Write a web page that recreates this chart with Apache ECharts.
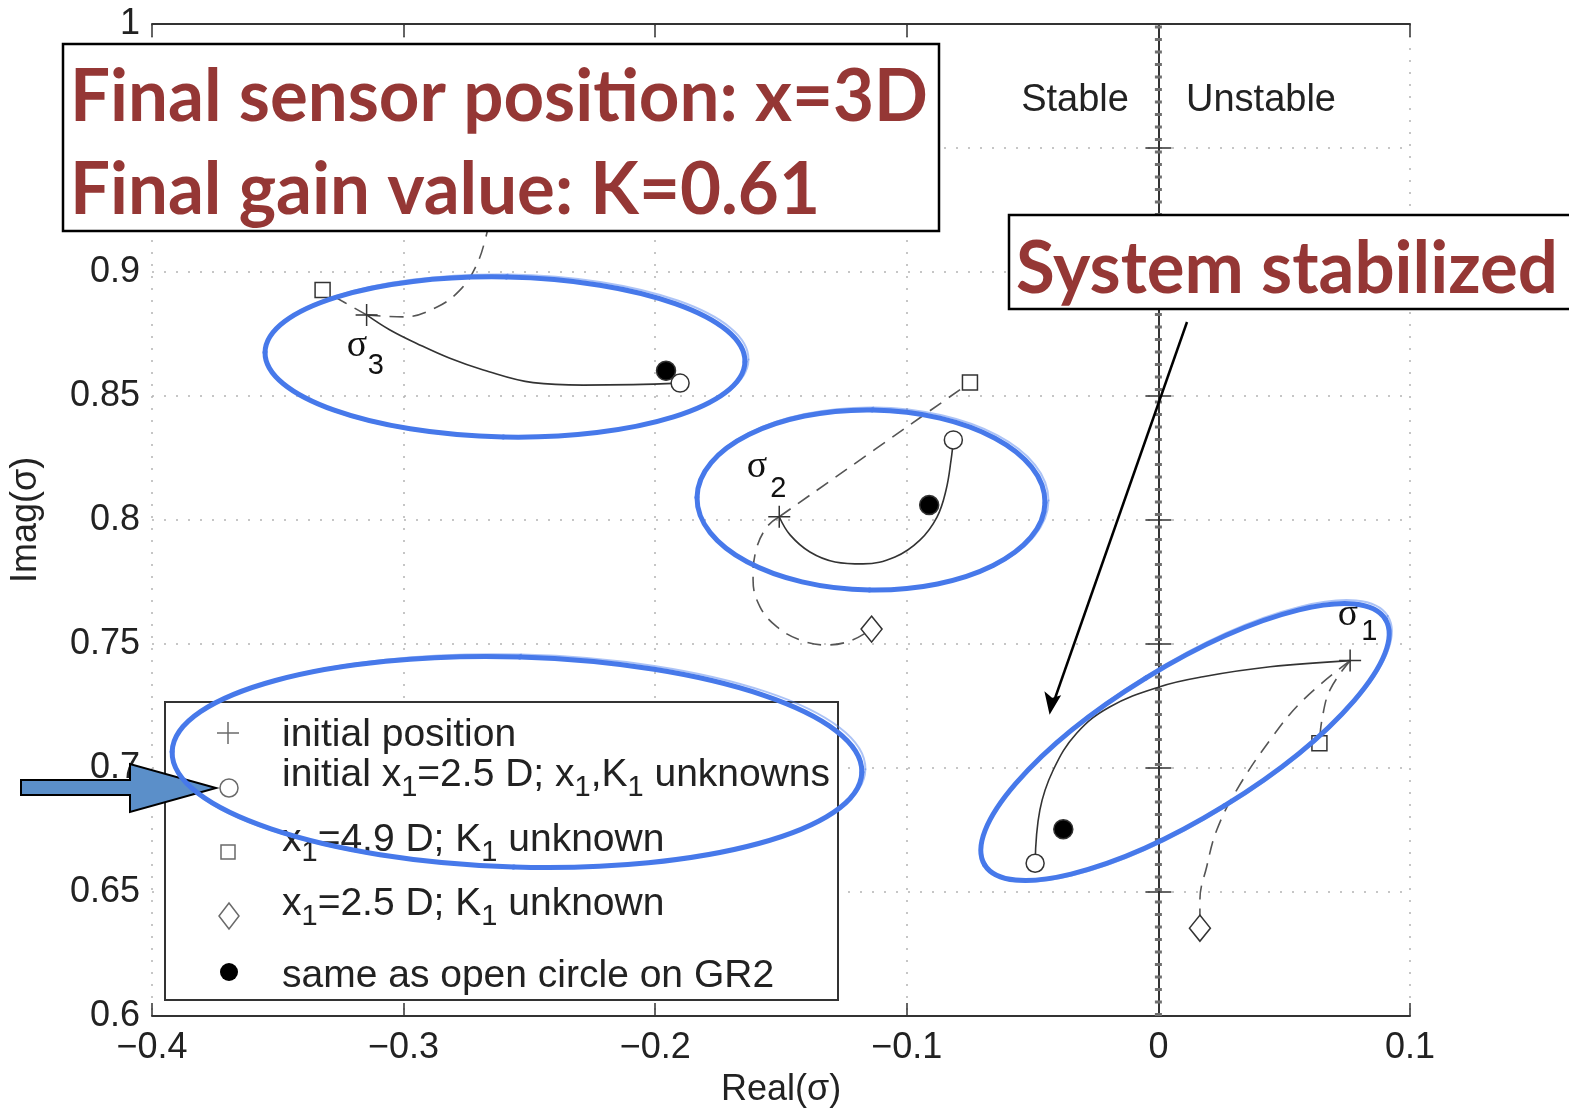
<!DOCTYPE html>
<html>
<head>
<meta charset="utf-8">
<script src="https://cdn.jsdelivr.net/npm/echarts@6/dist/echarts.min.js"></script>
<style>
  html, body { margin: 0; padding: 0; background: #fff; }
  #chart { width: 1569px; height: 1113px; }
</style>
</head>
<body>
<div id="chart"></div>
<script>
// Axis ranges
const X_MIN = -0.4, X_MAX = 0.1, X_STEP = 0.1;
const Y_MIN = 0.6, Y_MAX = 1.0, Y_STEP = 0.05;

// Eigenvalue markers for the three modes (sigma3, sigma2, sigma1)
const initialPosition = [[-0.3147, 0.8827], [-0.1507, 0.8013], [0.0762, 0.7433]];
const freeOptimum     = [[-0.1901, 0.8552], [-0.0815, 0.8323], [-0.0490, 0.6616]];
const fixedX49        = [[-0.3322, 0.8927], [-0.0749, 0.8554], [0.0640, 0.7100]];
const fixedX25        = [[-0.2633, 0.9411], [-0.1140, 0.7560], [0.0165, 0.6354]];
const gr2Optimum      = [[-0.1957, 0.8602], [-0.0911, 0.8060], [-0.0378, 0.6753]];

// Trajectories: x1 and K1 both free (solid)
const freePath3 = [[-0.3147, 0.8827], [-0.3054, 0.8766], [-0.2948, 0.8712], [-0.2816, 0.8652], [-0.2683, 0.8605], [-0.2485, 0.8554], [-0.2286, 0.8544], [-0.2088, 0.8546], [-0.1901, 0.8552]];
const freePath2 = [[-0.1507, 0.8013], [-0.1464, 0.7940], [-0.1385, 0.7871], [-0.1285, 0.7831], [-0.1174, 0.7823], [-0.1047, 0.7851], [-0.0948, 0.7919], [-0.0880, 0.8012], [-0.0844, 0.8121], [-0.0824, 0.8242], [-0.0815, 0.8323]];
const freePath1 = [[0.0762, 0.7433], [0.0444, 0.7408], [0.0177, 0.7368], [0.0006, 0.7328], [-0.0192, 0.7247], [-0.0325, 0.7140], [-0.0418, 0.6992], [-0.0471, 0.6831], [-0.0490, 0.6616]];

// Trajectories: x1 = 4.9 D fixed (dashed)
const x49Path3 = [[-0.3147, 0.8827], [-0.3322, 0.8927]];
const x49Path2 = [[-0.1507, 0.8013], [-0.0749, 0.8554]];
const x49Path1 = [[0.0762, 0.7433], [0.0682, 0.7315], [0.0650, 0.7194], [0.0640, 0.7100]];

// Trajectories: x1 = 2.5 D fixed (dashed)
const x25Path3 = [[-0.3147, 0.8827], [-0.3002, 0.8819], [-0.2867, 0.8859], [-0.2776, 0.8927], [-0.2716, 0.9016], [-0.2676, 0.9129], [-0.2649, 0.9270], [-0.2633, 0.9411]];
const x25Path2 = [[-0.1507, 0.8013], [-0.1556, 0.7972], [-0.1599, 0.7879], [-0.1611, 0.7758], [-0.1583, 0.7649], [-0.1516, 0.7569], [-0.1424, 0.7516], [-0.1325, 0.7496], [-0.1226, 0.7512], [-0.1140, 0.7560]];
const x25Path1 = [[0.0762, 0.7433], [0.0575, 0.7274], [0.0444, 0.7113], [0.0311, 0.6911], [0.0232, 0.6750], [0.0192, 0.6602], [0.0165, 0.6468], [0.0165, 0.6354]];

// Stability boundary Re(sigma) = 0
const stabilityBoundary = [[0, 0.6], [0, 1.0]];

// Mode labels: glyph position, subscript position, index
const modeLabels = [
  { sigma: [-0.3185, 0.8702], sub: [-0.3110, 0.8622], idx: '3' },
  { sigma: [-0.1595, 0.8214], sub: [-0.1511, 0.8125], idx: '2' },
  { sigma: [0.0754, 0.7617], sub: [0.0838, 0.7548], idx: '1' }
];

const SANS = '"Liberation Sans", Arial, Helvetica, sans-serif';
const fmtX = v => { const a = Number(Math.abs(v).toFixed(2)); return (v < -1e-9 ? '\u2212' : '') + a; };
const fmtY = v => String(Number(v.toFixed(2)));

const chart = echarts.init(document.getElementById('chart'));

const axisLine = { show: true, lineStyle: { color: '#333', width: 2 } };
const axisTick = { show: true, inside: true, length: 13, lineStyle: { color: '#333', width: 1.5 } };
const gridLine = { show: true, lineStyle: { color: '#b4b4b4', width: 1.5, type: [2, 10] } };

function curve(name, data, dashed) {
  return {
    name, type: 'line', data, smooth: 0.4, showSymbol: false, symbol: 'none',
    silent: true, z: 3,
    lineStyle: dashed ? { color: '#555', width: 1.6, type: [14, 9] } : { color: '#333', width: 1.6 }
  };
}
function markers(name, data, symbol, size, fill, z) {
  return {
    name, type: 'scatter', data, symbol, symbolSize: size, z: z || 5, silent: true,
    itemStyle: { color: fill, borderColor: '#333', borderWidth: 1.5, opacity: 1 }
  };
}

chart.setOption({
  animation: false,
  backgroundColor: '#fff',
  grid: { left: 152, top: 24, right: 159, bottom: 97, show: false },
  xAxis: [
    { type: 'value', min: X_MIN, max: X_MAX, interval: X_STEP, position: 'bottom',
      axisLine, axisTick, splitLine: gridLine,
      axisLabel: { fontSize: 36, fontFamily: SANS, color: '#222', margin: 14, formatter: fmtX },
      name: 'Real(\u03c3)', nameLocation: 'middle', nameGap: 56,
      nameTextStyle: { fontSize: 36, fontFamily: SANS, color: '#222', verticalAlign: 'top' } },
    { type: 'value', min: X_MIN, max: X_MAX, interval: X_STEP, position: 'top',
      axisLine, axisTick, splitLine: { show: false }, axisLabel: { show: false } }
  ],
  yAxis: [
    { type: 'value', min: Y_MIN, max: Y_MAX, interval: Y_STEP, position: 'left',
      axisLine, axisTick, splitLine: gridLine,
      axisLabel: { fontSize: 36, fontFamily: SANS, color: '#222', margin: 12, formatter: fmtY },
      name: 'Imag(\u03c3)', nameLocation: 'middle', nameGap: 108,
      nameTextStyle: { fontSize: 36, fontFamily: SANS, color: '#222' } },
    { type: 'value', min: Y_MIN, max: Y_MAX, interval: Y_STEP, position: 'right',
      axisLine, axisTick, splitLine: { show: false }, axisLabel: { show: false } }
  ],
  series: [
    { name: 'boundary', type: 'line', data: stabilityBoundary, showSymbol: false, symbol: 'none', silent: true, z: 2,
      lineStyle: { color: '#707070', width: 7, type: [3, 9.5] } },
    curve('free3', freePath3, false), curve('free2', freePath2, false), curve('free1', freePath1, false),
    curve('x49_3', x49Path3, true), curve('x49_2', x49Path2, true), curve('x49_1', x49Path1, true),
    curve('x25_3', x25Path3, true), curve('x25_2', x25Path2, true), curve('x25_1', x25Path1, true),
    markers('initial position', initialPosition, 'path://M0,-10L0,10M-10,0L10,0', 22, 'none', 6),
    markers('x1 free', freeOptimum, 'circle', 18, '#fff', 6),
    markers('x1=4.9', fixedX49, 'rect', 15, '#fff', 6),
    markers('x1=2.5', fixedX25, 'diamond', [21, 26], '#fff', 6),
    markers('GR2', gr2Optimum, 'circle', 19, '#000', 7)
  ]
});

// ---------- annotations ----------
const RED = '#953735';
const RED_FONT_FAMILY = 'Lato, "Open Sans", sans-serif';
const measureCtx = document.createElement('canvas').getContext('2d');
function fitScale(text, font, width) {
  measureCtx.font = font;
  return width / measureCtx.measureText(text).width;
}
function redText(text, x, y, width) {
  const font = 'bold 72px ' + RED_FONT_FAMILY;
  return { type: 'text', x, y, scaleX: fitScale(text, font, width), z: 102, silent: true,
    style: { text, font, fill: RED, align: 'left', verticalAlign: 'middle' } };
}

// elliptical outline built from four cubic segments
function ellipsePoints(rx, ry) {
  const k = 0.5523;
  return [
    [[rx, 0], [rx, ry * k], [rx * k, ry], [0, ry]],
    [[0, ry], [-rx * k, ry], [-rx, ry * k], [-rx, 0]],
    [[-rx, 0], [-rx, -ry * k], [-rx * k, -ry], [0, -ry]],
    [[0, -ry], [rx * k, -ry], [rx, -ry * k], [rx, 0]]
  ];
}
const BLUE = '#4779ea';
function handEllipse(cx, cy, rx, ry, rot) {
  const out = [];
  const passes = [
    { dx: 0, dy: 0, drx: 0, dry: 0, dr: 0, w: 5, o: 1 },
    { dx: 1.5, dy: -1, drx: 2, dry: 1.5, dr: 0.006, w: 2, o: 0.45 }
  ];
  passes.forEach(p => {
    const children = ellipsePoints(rx + p.drx, ry + p.dry).map(seg => ({
      type: 'bezierCurve', silent: true, z: 90,
      shape: { x1: seg[0][0], y1: seg[0][1], cpx1: seg[1][0], cpy1: seg[1][1], cpx2: seg[2][0], cpy2: seg[2][1], x2: seg[3][0], y2: seg[3][1] },
      style: { fill: null, stroke: BLUE, lineWidth: p.w, opacity: p.o, lineCap: 'round' }
    }));
    out.push({ type: 'group', x: cx + p.dx, y: cy + p.dy, rotation: rot + p.dr, z: 90, silent: true, children });
  });
  return out;
}

const LEG_TEXT_FONT = '39px ' + SANS;
const subRich = { s: { fontSize: 29, fontFamily: SANS, fill: '#222', padding: [26, 0, 0, 0] } };
function legendText(text, y) {
  return { type: 'text', x: 282, y, z: 81, silent: true,
    style: { text, font: LEG_TEXT_FONT, fill: '#222', align: 'left', verticalAlign: 'middle', rich: subRich } };
}
const LM = '#6a6a6a';

const graphics = [
  // legend
  { type: 'rect', z: 80, silent: true, shape: { x: 165, y: 702, width: 673, height: 298 },
    style: { fill: '#fff', stroke: '#333', lineWidth: 2 } },
  { type: 'line', z: 81, silent: true, shape: { x1: 228, y1: 722, x2: 228, y2: 744 }, style: { stroke: LM, lineWidth: 1.5 } },
  { type: 'line', z: 81, silent: true, shape: { x1: 217, y1: 733, x2: 239, y2: 733 }, style: { stroke: LM, lineWidth: 1.5 } },
  { type: 'circle', z: 81, silent: true, shape: { cx: 229, cy: 788, r: 9 }, style: { fill: '#fff', stroke: LM, lineWidth: 1.5 } },
  { type: 'rect', z: 81, silent: true, shape: { x: 221, y: 845, width: 14, height: 14 }, style: { fill: '#fff', stroke: LM, lineWidth: 1.5 } },
  { type: 'polygon', z: 81, silent: true, shape: { points: [[229, 903], [239, 916], [229, 929], [219, 916]] }, style: { fill: '#fff', stroke: LM, lineWidth: 1.5 } },
  { type: 'circle', z: 81, silent: true, shape: { cx: 229, cy: 972, r: 9 }, style: { fill: '#000' } },
  legendText('initial position', 735),
  legendText('initial x{s|1}=2.5 D; x{s|1},K{s|1} unknowns', 775),
  legendText('x{s|1}=4.9 D; K{s|1} unknown', 840),
  legendText('x{s|1}=2.5 D; K{s|1} unknown', 904),
  legendText('same as open circle on GR2', 976),

  // stable / unstable
  { type: 'text', x: 1075, y: 101, z: 60, silent: true, style: { text: 'Stable', font: '38px ' + SANS, fill: '#222', align: 'center', verticalAlign: 'middle' } },
  { type: 'text', x: 1261, y: 101, z: 60, silent: true, style: { text: 'Unstable', font: '38px ' + SANS, fill: '#222', align: 'center', verticalAlign: 'middle' } },

  // highlight ellipses
  ...handEllipse(505, 357, 240, 80, -0.02),
  ...handEllipse(871, 500, 174, 90, -0.015),
  ...handEllipse(1185, 742, 235, 75, 0.55),
  ...handEllipse(517, 762, 345, 105, -0.03),

  // block arrow pointing at the legend circle
  { type: 'polygon', z: 85, silent: true,
    shape: { points: [[21, 780], [130, 780], [130, 764], [216, 788], [130, 812], [130, 795], [21, 795]] },
    style: { fill: '#5b8fc9', stroke: '#000', lineWidth: 2, lineJoin: 'miter' } },

  // arrow from the "System stabilized" note
  { type: 'line', z: 95, silent: true, shape: { x1: 1187, y1: 322, x2: 1053, y2: 704 }, style: { stroke: '#000', lineWidth: 2.5 } },
  { type: 'polygon', z: 95, silent: true, shape: { points: [[1050, 712], [1046, 694], [1052, 699], [1059, 697]] }, style: { fill: '#000', stroke: '#000', lineWidth: 2 } },

  // text boxes
  { type: 'rect', z: 100, silent: true, shape: { x: 63, y: 44, width: 876, height: 187 }, style: { fill: '#fff', stroke: '#000', lineWidth: 2.5 } },
  redText('Final sensor position: x=3D', 70, 98, 858),
  redText('Final gain value: K=0.61', 70, 191, 750),
  { type: 'rect', z: 100, silent: true, shape: { x: 1009, y: 215, width: 600, height: 94 }, style: { fill: '#fff', stroke: '#000', lineWidth: 2.5 } },
  redText('System stabilized', 1016, 270, 542)
];

// mode labels placed in data coordinates
modeLabels.forEach(m => {
  const p = chart.convertToPixel({ xAxisIndex: 0, yAxisIndex: 0 }, m.sigma);
  const q = chart.convertToPixel({ xAxisIndex: 0, yAxisIndex: 0 }, m.sub);
  graphics.push({ type: 'text', x: p[0], y: p[1], z: 60, silent: true,
    style: { text: '\u03c3', font: '38px "Liberation Serif", "DejaVu Serif", serif', fill: '#111', align: 'center', verticalAlign: 'middle' } });
  graphics.push({ type: 'text', x: q[0], y: q[1], z: 60, silent: true,
    style: { text: m.idx, font: '29px ' + SANS, fill: '#111', align: 'center', verticalAlign: 'middle' } });
});

chart.setOption({ graphic: graphics });
</script>
</body>
</html>
